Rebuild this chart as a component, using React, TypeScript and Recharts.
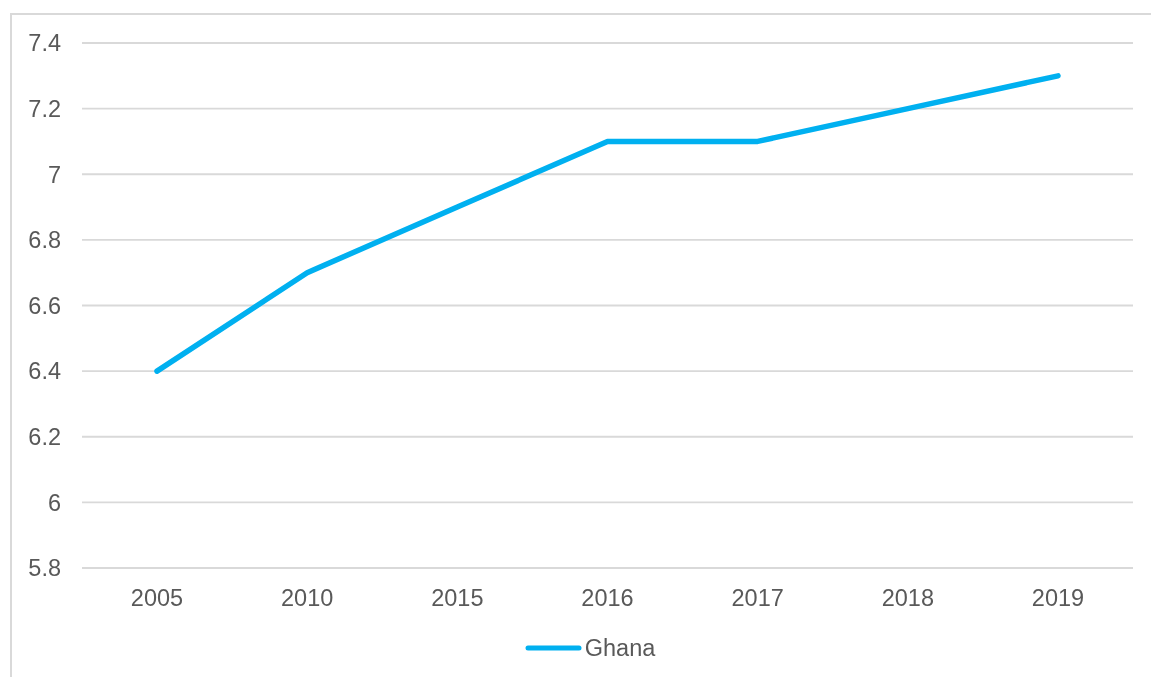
import React from 'react';
import { LineChart, Line, XAxis, YAxis, CartesianGrid, Legend } from 'recharts';

const years = ['2005', '2010', '2015', '2016', '2017', '2018', '2019'];
const ghana = [6.4, 6.7, 6.9, 7.1, 7.1, 7.2, 7.3];
const yTicks = [5.8, 6, 6.2, 6.4, 6.6, 6.8, 7, 7.2, 7.4];

const data = years.map((year, i) => ({ year, Ghana: ghana[i] }));

const LINE_COLOR = '#00b0f0';
const TEXT_COLOR = '#595959';
const GRID_COLOR = '#d9d9d9';
const FONT = '"Liberation Sans", Arial, sans-serif';

const renderLegend = () => (
    <div style={{ display: 'flex', justifyContent: 'center', alignItems: 'center', height: 30, paddingLeft: 25 }}>
        <svg width={57} height={10} style={{ display: 'block' }}>
            <line x1={3} y1={5} x2={54} y2={5} stroke={LINE_COLOR} strokeWidth={5} strokeLinecap="round" />
        </svg>
        <span style={{ fontFamily: FONT, fontSize: 23.5, color: TEXT_COLOR, marginLeft: 3 }}>Ghana</span>
    </div>
);

const App: React.FC = () => {
    return (
        <div style={{ position: 'relative', width: 1141, height: 661 }}>
            {/* frame: only its left and top edges show inside the window */}
            <div
                style={{
                    position: 'fixed',
                    left: 10,
                    top: 13,
                    right: -10,
                    bottom: -10,
                    borderLeft: `2px solid ${GRID_COLOR}`,
                    borderTop: `2px solid ${GRID_COLOR}`,
                    pointerEvents: 'none',
                }}
            />
            <div style={{ position: 'absolute', left: 2, top: 5, width: 1141, height: 656, overflow: 'hidden' }}>
                <LineChart width={1141} height={664} data={data} margin={{ top: 30, right: 18, left: 12, bottom: 14 }}>
                    <CartesianGrid vertical={false} stroke={GRID_COLOR} strokeWidth={1.8} />
                    <XAxis
                        dataKey="year"
                        axisLine={false}
                        tickLine={false}
                        tickSize={0}
                        tickMargin={21}
                        height={65}
                        padding={{ left: 75, right: 75 }}
                        tick={{ fill: TEXT_COLOR, fontSize: 23.5, fontFamily: FONT }}
                    />
                    <YAxis
                        domain={[5.8, 7.4]}
                        ticks={yTicks}
                        axisLine={false}
                        tickLine={false}
                        tickSize={0}
                        tickMargin={21}
                        width={60}
                        tick={{ fill: TEXT_COLOR, fontSize: 23.5, fontFamily: FONT }}
                    />
                    <Legend verticalAlign="bottom" height={30} content={renderLegend} />
                    <Line
                        type="linear"
                        dataKey="Ghana"
                        stroke={LINE_COLOR}
                        strokeWidth={5.5}
                        strokeLinecap="round"
                        strokeLinejoin="round"
                        dot={false}
                        activeDot={false}
                        isAnimationActive={false}
                    />
                </LineChart>
            </div>
        </div>
    );
};

export default App;
